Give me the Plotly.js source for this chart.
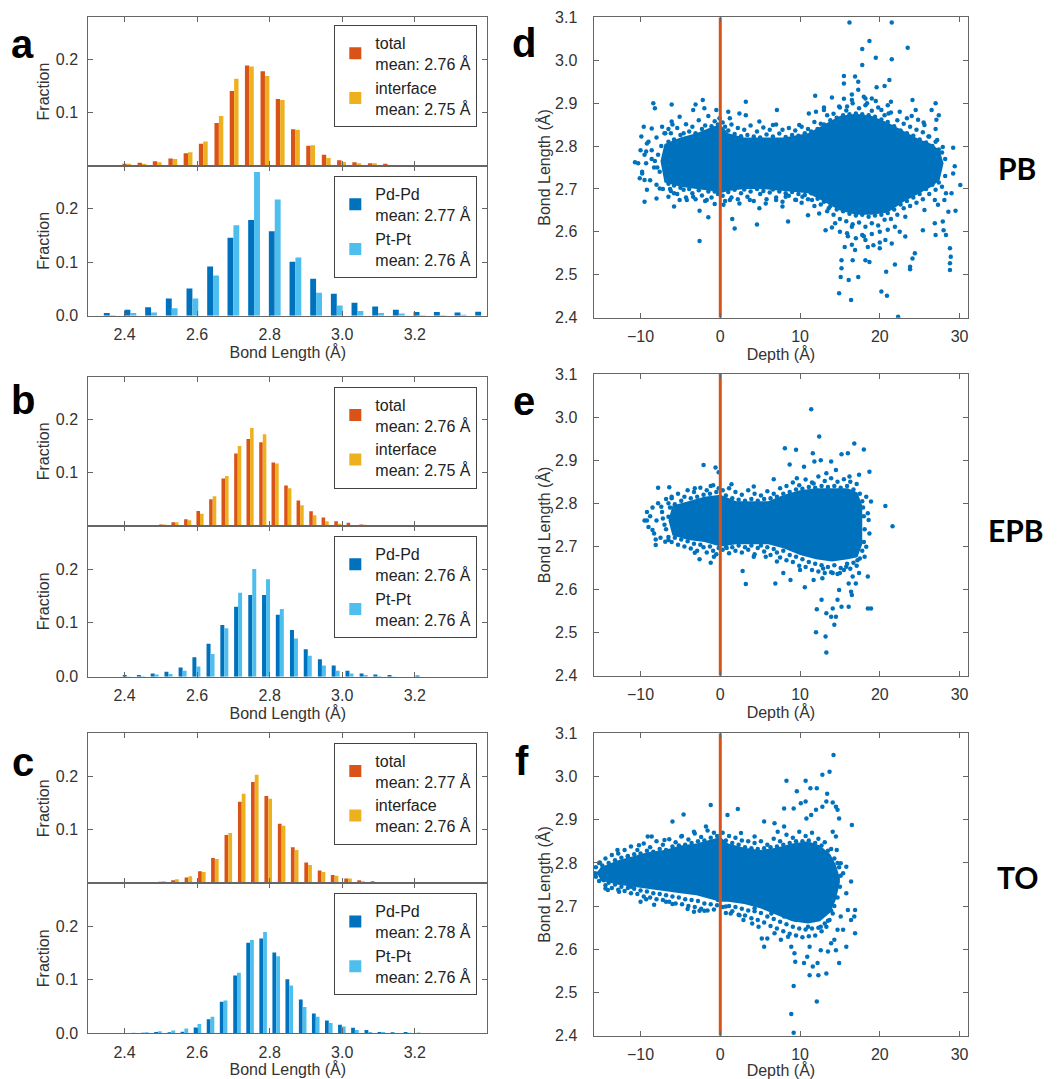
<!DOCTYPE html>
<html><head><meta charset="utf-8">
<script src="https://cdn.plot.ly/plotly-3.0.1.min.js"></script>
<style>html,body{margin:0;padding:0;background:#fff}#chart{width:1062px;height:1079px}</style>
</head><body><div id="chart"></div>
<script>
// ---------------- DATA ----------------
// Histogram bin centres (Bond Length, Å)
const aTopBins = [2.321,2.364,2.406,2.448,2.490,2.533,2.575,2.617,2.660,2.702,2.744,2.787,2.829,2.871,2.913,2.956,2.998,3.040,3.083,3.125,3.167,3.210,3.252,3.294,3.337,3.379];
const aTopTotal = [0.002,0.002,0.004,0.006,0.009,0.014,0.024,0.042,0.081,0.141,0.189,0.178,0.126,0.069,0.038,0.021,0.011,0.007,0.005,0.004,0.002,0.001,0.001,0.001,0.001,0.001];
const aTopInterface = [0.001,0.002,0.004,0.004,0.007,0.013,0.026,0.046,0.094,0.164,0.187,0.169,0.124,0.068,0.039,0.015,0.0075,0.005,0.005,0.001,0.002,0.001,0.001,0.001,0.001,0.001];

const aBotBins = [2.359,2.416,2.473,2.530,2.587,2.644,2.700,2.757,2.814,2.871,2.928,2.985,3.042,3.099,3.156,3.213,3.269,3.326,3.383];
const aBotPdPd = [0.005,0.011,0.016,0.032,0.051,0.092,0.146,0.179,0.158,0.101,0.069,0.041,0.024,0.017,0.011,0.007,0.007,0.006,0.0075];
const aBotPtPt = [0.001,0.005,0.006,0.014,0.032,0.075,0.169,0.269,0.2175,0.109,0.043,0.019,0.009,0.005,0.004,0.001,0.001,0.002,0];

const bTopBins = [2.470,2.505,2.539,2.574,2.608,2.643,2.677,2.712,2.746,2.781,2.815,2.850,2.884,2.919,2.953,2.988,3.022,3.057];
const bTopTotal = [0.001,0.003,0.007,0.0125,0.028,0.050,0.089,0.136,0.163,0.157,0.119,0.076,0.048,0.0275,0.016,0.009,0.006,0.003];
const bTopInterface = [0.001,0.003,0.007,0.011,0.023,0.056,0.094,0.150,0.184,0.172,0.117,0.071,0.039,0.020,0.009,0.004,0.002,0.0025];

const bBotBins = [2.406,2.445,2.483,2.521,2.560,2.598,2.637,2.675,2.713,2.752,2.790,2.828,2.867,2.905,2.944,2.982,3.020,3.059,3.097,3.136,3.174,3.213];
const bBotPdPd = [0.003,0.003,0.006,0.009,0.017,0.036,0.061,0.096,0.130,0.152,0.152,0.115,0.087,0.051,0.0325,0.021,0.011,0.006,0.004,0.003,0,0.002];
const bBotPtPt = [0.0005,0.001,0.004,0.005,0.011,0.019,0.042,0.090,0.156,0.200,0.181,0.126,0.071,0.039,0.021,0.011,0.006,0.003,0.001,0.0005,0,0];

const cTopBins = [2.466,2.503,2.539,2.576,2.613,2.649,2.686,2.723,2.759,2.796,2.833,2.869,2.906,2.943,2.979,3.016,3.052,3.089,3.126,3.162];
const cTopTotal = [0.002,0.003,0.0055,0.011,0.0225,0.047,0.090,0.152,0.189,0.163,0.111,0.0675,0.039,0.024,0.0155,0.009,0.0055,0.004,0.002,0.001];
const cTopInterface = [0.0025,0.004,0.0075,0.013,0.021,0.0455,0.094,0.167,0.2025,0.158,0.1075,0.062,0.034,0.021,0.014,0.009,0.004,0.0025,0.001,0.002];

const cBotBins = [2.420,2.456,2.492,2.529,2.565,2.601,2.637,2.673,2.710,2.746,2.782,2.818,2.854,2.891,2.927,2.963,2.999,3.035,3.072,3.108,3.144,3.180,3.216,3.253,3.289];
const cBotPdPd = [0.0005,0.001,0.0025,0.002,0.003,0.011,0.026,0.059,0.108,0.169,0.177,0.151,0.101,0.063,0.037,0.024,0.016,0.0105,0.006,0.0025,0.002,0.0025,0.001,0.0005,0.0005];
const cBotPtPt = [0.001,0.002,0.004,0.005,0.009,0.0175,0.031,0.061,0.113,0.174,0.189,0.144,0.089,0.049,0.031,0.019,0.0125,0.006,0.0025,0.0025,0.0005,0.001,0.0005,0.0005,0];

const topNames = [
  ['total<br>mean: 2.76 Å','interface<br>mean: 2.75 Å'],
  ['total<br>mean: 2.76 Å','interface<br>mean: 2.75 Å'],
  ['total<br>mean: 2.77 Å','interface<br>mean: 2.76 Å']];
const botNames = [
  ['Pd-Pd<br>mean: 2.77 Å','Pt-Pt<br>mean: 2.76 Å'],
  ['Pd-Pd<br>mean: 2.76 Å','Pt-Pt<br>mean: 2.76 Å'],
  ['Pd-Pd<br>mean: 2.78 Å','Pt-Pt<br>mean: 2.76 Å']];

// Scatter: dense core envelope (depth, upper, lower)
const dCoreDepth = [-7.5,-7,-5,-3,-1,0,1,3,5,8,11,13,15,17,19,21,23,25,26.5,27.5,28];
const dCoreUpper = [2.765,2.805,2.82,2.83,2.845,2.85,2.83,2.82,2.82,2.82,2.83,2.85,2.87,2.875,2.87,2.855,2.835,2.815,2.805,2.79,2.76];
const dCoreLower = [2.765,2.715,2.705,2.70,2.695,2.69,2.695,2.70,2.70,2.695,2.69,2.67,2.65,2.64,2.64,2.645,2.67,2.69,2.705,2.72,2.76];
// sparse points read individually
const dPoints = [[16.2,3.088],[21.5,3.088],[18.7,3.045],[23.5,3.029],[17.8,3.026],[21.5,3.002],[19.5,3.006],[17.8,2.989],[16.9,2.962],[15.5,2.963],[17.3,2.950],[21.2,2.954],[20.6,2.940],[19.6,2.937],[17.3,2.931],[15.5,2.946],[14.0,2.913],[11.9,2.917],[19.0,2.911],[24.1,2.907],[27.0,2.900],[21.4,2.903],[-8.4,2.900],[-6.1,2.897],[-3.1,2.897],[-2.2,2.907],[3.2,2.903],[-8.2,2.888],[1.0,2.880],[3.2,2.872],[7.1,2.884],[-0.5,2.884],[26.5,2.884],[27.4,2.872],[24.5,2.884],[25.6,2.849],[27.1,2.861],[-9.6,2.845],[-9.9,2.822],[-10.7,2.762],[-10.1,2.725],[-9.5,2.670],[-2.6,2.649],[-1.5,2.634],[0.4,2.663],[1.5,2.630],[1.8,2.608],[-2.6,2.579],[4.6,2.617],[8.5,2.624],[11.0,2.639],[7.8,2.659],[29.2,2.796],[30.1,2.709],[29.4,2.753],[29.2,2.736],[29.0,2.690],[29.5,2.649],[28.6,2.647],[28.0,2.604],[28.3,2.593],[28.8,2.562],[28.9,2.542],[28.8,2.527],[28.8,2.511],[27.0,2.593],[24.4,2.550],[24.1,2.538],[23.8,2.519],[23.8,2.513],[21.9,2.524],[20.8,2.507],[20.2,2.461],[20.9,2.451],[22.3,2.402],[14.9,2.457],[16.4,2.441],[16.1,2.488],[17.3,2.495],[15.1,2.495],[15.2,2.515],[15.2,2.534],[16.6,2.534],[18.2,2.534],[18.7,2.530],[15.6,2.565],[16.9,2.558],[20.0,2.562],[19.2,2.569],[23.2,2.589],[22.5,2.600],[25.4,2.604],[26.9,2.620],[27.9,2.624],[13.2,2.604],[14.4,2.620],[13.6,2.655],[15.9,2.597],[17.8,2.593],[18.2,2.581],[20.7,2.581],[21.5,2.573],[16.5,2.612],[21.9,2.612],[23.2,2.635],[25.6,2.651],[27.3,2.663],[26.9,2.674],[28.1,2.674],[28.3,2.690],[27.9,2.798],[27.2,2.814],[26.1,2.822],[24.8,2.861],[23.4,2.865],[22.7,2.830],[21.1,2.876],[20.2,2.884],[18.4,2.900],[18.2,2.911],[16.5,2.907],[15.9,2.892],[14.9,2.892],[13.0,2.884],[11.1,2.876],[9.9,2.849],[6.6,2.849],[4.9,2.857],[2.4,2.876],[1.2,2.865],[-0.1,2.865],[-2.0,2.888],[-3.4,2.884],[-5.1,2.868],[-6.1,2.857],[-7.3,2.845],[-6.9,2.830],[-8.6,2.841],[-9.2,2.806],[-9.3,2.787],[-9.8,2.736],[-9.5,2.721],[-9.2,2.698],[-8.0,2.678],[-7.6,2.701],[-6.5,2.682],[-5.8,2.659],[-5.1,2.674],[-4.2,2.674],[-3.4,2.682],[-1.7,2.674],[-0.7,2.694],[1.2,2.674],[2.4,2.666],[3.7,2.674],[4.9,2.655],[5.7,2.666],[7.0,2.674],[8.2,2.682],[9.5,2.674],[10.3,2.682],[11.5,2.674],[12.4,2.643],
[-10.3,2.76],[-10,2.79],[-9.8,2.74],[-9.5,2.78],[-9.3,2.76],[-9,2.81],[-8.8,2.72],[-8.6,2.79],[-8.3,2.75],[-8,2.82],[-8,2.71],[-7.8,2.78],[-7.6,2.74],[-7.4,2.80],[-7.2,2.70],[-7,2.83],[-6.8,2.76],[-6.5,2.84],[-6.3,2.70],[-6,2.85],[-5.8,2.69],[-8.2,2.765],[-7.9,2.75],[-8.6,2.77],
[14,2.61],[15,2.60],[16,2.59],[17,2.585],[18,2.59],[19,2.595],[20,2.60],[21,2.605],[16.5,2.57],[18.5,2.565],[20,2.575],[15.5,2.91],[16.5,2.92],[18,2.915],[19.5,2.905],[21,2.895],[13,2.89],[12,2.88],[22.5,2.88],[24,2.87],[25.5,2.855],[27,2.84]];
// points at the edge of the dense cloud
const dEdgePoints = [[-6.5,2.81],[-6.2,2.83],[-5.8,2.815],[-5.4,2.842],[-5.0,2.826],[-4.6,2.83],[-4.3,2.851],[-3.9,2.834],[-3.5,2.845],[-3.1,2.83],[-2.7,2.86],[-2.3,2.84],[-1.9,2.848],[-1.5,2.87],[-1.1,2.846],[-0.7,2.858],[-0.3,2.85],[0.3,2.855],[0.6,2.845],[1.0,2.836],[1.4,2.85],[1.8,2.828],[2.2,2.842],[2.6,2.823],[3.0,2.838],[3.4,2.826],[3.8,2.848],[4.2,2.822],[4.6,2.834],[5.0,2.82],[5.4,2.843],[5.8,2.827],[6.2,2.838],[6.6,2.822],[7.0,2.85],[7.4,2.829],[7.8,2.838],[8.2,2.821],[8.6,2.842],[9.0,2.826],[9.4,2.836],[9.8,2.824],[10.2,2.845],[10.6,2.83],[11.0,2.84],[11.4,2.834],[11.8,2.856],[12.2,2.84],[12.6,2.852],[13.0,2.85],[13.4,2.872],[13.8,2.86],[14.2,2.875],[14.6,2.866],[15.0,2.89],[15.4,2.872],[15.8,2.883],[16.2,2.874],[16.6,2.9],[17.0,2.876],[17.4,2.888],[17.8,2.874],[18.2,2.895],[18.6,2.872],[19.0,2.882],[19.4,2.868],[19.8,2.89],[20.2,2.862],[20.6,2.872],[21.0,2.856],[21.4,2.878],[21.8,2.846],[22.2,2.86],[22.6,2.836],[23.0,2.852],[23.4,2.83],[23.8,2.845],[24.2,2.824],[24.6,2.838],[25.0,2.815],[25.4,2.832],[25.8,2.808],[26.2,2.822],[26.6,2.80],[27.0,2.81],[27.4,2.792],[27.8,2.785],[28.2,2.77],
[-6.5,2.712],[-6.2,2.695],[-5.8,2.708],[-5.4,2.688],[-5.0,2.703],[-4.6,2.698],[-4.3,2.68],[-3.9,2.7],[-3.5,2.69],[-3.1,2.676],[-2.7,2.697],[-2.3,2.685],[-1.9,2.672],[-1.5,2.694],[-1.1,2.68],[-0.7,2.665],[-0.3,2.688],[0.3,2.684],[0.6,2.672],[1.0,2.693],[1.4,2.68],[1.8,2.698],[2.2,2.676],[2.6,2.69],[3.0,2.699],[3.4,2.682],[3.8,2.694],[4.2,2.672],[4.6,2.7],[5.0,2.688],[5.4,2.695],[5.8,2.676],[6.2,2.692],[6.6,2.699],[7.0,2.68],[7.4,2.694],[7.8,2.67],[8.2,2.69],[8.6,2.684],[9.0,2.693],[9.4,2.675],[9.8,2.688],[10.2,2.668],[10.6,2.686],[11.0,2.676],[11.4,2.69],[11.8,2.66],[12.2,2.677],[12.6,2.664],[13.0,2.67],[13.4,2.648],[13.8,2.66],[14.2,2.64],[14.6,2.652],[15.0,2.63],[15.4,2.648],[15.8,2.625],[16.2,2.642],[16.6,2.618],[17.0,2.638],[17.4,2.622],[17.8,2.64],[18.2,2.612],[18.6,2.635],[19.0,2.62],[19.4,2.638],[19.8,2.615],[20.2,2.64],[20.6,2.628],[21.0,2.644],[21.4,2.63],[21.8,2.652],[22.2,2.64],[22.6,2.664],[23.0,2.655],[23.4,2.672],[23.8,2.66],[24.2,2.68],[24.6,2.668],[25.0,2.688],[25.4,2.676],[25.8,2.7],[26.2,2.688],[26.6,2.71],[27.0,2.698],[27.4,2.715],[27.8,2.705],[28.2,2.73]];

const eCoreDepth = [-6.5,-6,-4,-2,0,2,4,6,8,10,12,14,16,17.2,17.8];
const eCoreUpper = [2.76,2.795,2.805,2.815,2.82,2.805,2.805,2.805,2.82,2.83,2.835,2.835,2.835,2.825,2.795];
const eCoreLower = [2.76,2.725,2.715,2.71,2.70,2.705,2.705,2.705,2.695,2.68,2.67,2.665,2.67,2.675,2.705];
const ePoints = [[11.4,3.018],[12.4,2.955],[16.8,2.939],[18.0,2.925],[8.1,2.928],[9.5,2.924],[11.6,2.916],[15.2,2.914],[16.0,2.916],[11.8,2.897],[12.6,2.900],[13.9,2.897],[18.7,2.873],[-2.1,2.889],[-0.6,2.883],[-0.2,2.872],[8.7,2.890],[10.5,2.885],[13.3,2.870],[14.5,2.877],[16.2,2.862],[17.4,2.866],[6.7,2.856],[9.6,2.858],[11.7,2.846],[-7.8,2.836],[-6.4,2.837],[-3.2,2.835],[-1.2,2.840],[1.4,2.844],[4.2,2.839],[-9.2,2.760],[-8.5,2.738],[-8.1,2.716],[-8.1,2.703],[-6.9,2.711],[-6.5,2.769],[-7.4,2.792],[-6.1,2.815],[-3.2,2.685],[-2.6,2.670],[-1.2,2.662],[-0.8,2.676],[0.8,2.696],[2.8,2.643],[3.2,2.613],[4.2,2.676],[5.7,2.676],[7.1,2.665],[6.9,2.614],[7.9,2.638],[8.8,2.622],[10.0,2.645],[10.6,2.605],[11.7,2.622],[12.1,2.554],[12.0,2.501],[12.7,2.576],[12.8,2.626],[13.2,2.491],[13.3,2.454],[13.3,2.545],[13.9,2.537],[14.1,2.556],[14.3,2.518],[14.5,2.537],[14.7,2.576],[14.9,2.599],[16.1,2.614],[16.4,2.595],[16.5,2.587],[16.1,2.560],[15.2,2.560],[17.4,2.638],[18.5,2.630],[18.5,2.556],[18.9,2.556],[17.2,2.668],[18.1,2.676],[18.3,2.699],[18.7,2.730],[18.6,2.761],[18.5,2.777],[18.9,2.804],[18.3,2.815],[20.7,2.794],[21.6,2.747],[12.9,2.649],[14.1,2.638],[15.0,2.638],[15.8,2.653],[16.6,2.630],[17.0,2.614],
[-9.5,2.76],[-9.2,2.78],[-9,2.745],[-8.8,2.77],[-8.5,2.79],[-8.3,2.73],[-8,2.76],[-7.8,2.80],[-7.5,2.72],[-7.3,2.78],[-7,2.75],[-6.8,2.81],[-6.5,2.715],[-6.3,2.79],[-7.2,2.765],[-6.8,2.74]];
const eEdgePoints = [[-6.5,2.8],[-6.1,2.812],[-5.7,2.798],[-5.3,2.822],[-4.9,2.806],[-4.5,2.815],[-4.1,2.83],[-3.7,2.812],[-3.3,2.826],[-2.9,2.815],[-2.5,2.836],[-2.1,2.82],[-1.7,2.83],[-1.3,2.822],[-0.9,2.842],[-0.5,2.826],[-0.2,2.835],[0.3,2.83],[0.7,2.818],[1.1,2.835],[1.5,2.812],[1.9,2.826],[2.3,2.808],[2.7,2.82],[3.1,2.806],[3.5,2.83],[3.9,2.81],[4.3,2.822],[4.7,2.806],[5.1,2.818],[5.5,2.81],[5.9,2.828],[6.3,2.812],[6.7,2.822],[7.1,2.815],[7.5,2.835],[7.9,2.822],[8.3,2.84],[8.7,2.826],[9.1,2.848],[9.5,2.832],[9.9,2.842],[10.3,2.834],[10.7,2.855],[11.1,2.838],[11.5,2.848],[11.9,2.836],[12.3,2.862],[12.7,2.84],[13.1,2.852],[13.5,2.838],[13.9,2.858],[14.3,2.84],[14.7,2.85],[15.1,2.836],[15.5,2.856],[15.9,2.84],[16.3,2.85],[16.7,2.832],[17.1,2.845],[17.5,2.822],[17.8,2.805],
[-6.5,2.722],[-6.1,2.71],[-5.7,2.72],[-5.3,2.704],[-4.9,2.716],[-4.5,2.7],[-4.1,2.712],[-3.7,2.695],[-3.3,2.706],[-2.9,2.69],[-2.5,2.704],[-2.1,2.698],[-1.7,2.686],[-1.3,2.7],[-0.9,2.69],[-0.5,2.682],[-0.2,2.696],[0.3,2.692],[0.7,2.7],[1.1,2.684],[1.5,2.698],[1.9,2.69],[2.3,2.702],[2.7,2.686],[3.1,2.698],[3.5,2.692],[3.9,2.702],[4.3,2.682],[4.7,2.696],[5.1,2.702],[5.5,2.688],[5.9,2.698],[6.3,2.68],[6.7,2.694],[7.1,2.686],[7.5,2.674],[7.9,2.69],[8.3,2.668],[8.7,2.68],[9.1,2.664],[9.5,2.676],[9.9,2.655],[10.3,2.67],[10.7,2.652],[11.1,2.664],[11.5,2.645],[11.9,2.66],[12.3,2.642],[12.7,2.656],[13.1,2.638],[13.5,2.652],[13.9,2.64],[14.3,2.656],[14.7,2.636],[15.1,2.65],[15.5,2.645],[15.9,2.66],[16.3,2.648],[16.7,2.662],[17.1,2.655],[17.5,2.672],[17.8,2.69],[18.0,2.71],[18.1,2.74],[18.0,2.77],[17.9,2.79]];

const fCoreDepth = [-15.5,-15,-13,-11,-9,-7,-5,-3,-1,0,1,3,5,7,9,11,12.5,13.8,14.5,15];
const fCoreUpper = [2.777,2.79,2.805,2.815,2.825,2.83,2.84,2.845,2.855,2.86,2.845,2.835,2.83,2.835,2.845,2.85,2.84,2.82,2.795,2.765];
const fCoreLower = [2.777,2.76,2.75,2.745,2.74,2.735,2.73,2.725,2.715,2.71,2.71,2.705,2.695,2.68,2.665,2.66,2.665,2.685,2.715,2.755];
const fPoints = [[14.2,3.050],[13.7,3.011],[12.8,3.004],[8.3,2.990],[10.7,2.990],[11.3,2.973],[12.1,2.973],[13.4,2.960],[9.6,2.966],[13.3,2.942],[14.1,2.940],[10.7,2.942],[10.1,2.938],[14.5,2.930],[12.8,2.930],[12.0,2.923],[9.2,2.926],[8.0,2.926],[14.7,2.923],[10.8,2.903],[11.4,2.911],[14.9,2.903],[16.5,2.888],[-4.6,2.912],[-1.2,2.934],[2.2,2.925],[0.9,2.911],[-6.0,2.896],[5.5,2.896],[6.8,2.892],[8.0,2.884],[-9.1,2.861],[-8.6,2.861],[-10.2,2.841],[-12.9,2.830],[-15.1,2.801],[-15.7,2.776],[-15.2,2.776],[-14.1,2.737],[-14.4,2.741],[-12.7,2.733],[-10.0,2.710],[-9.3,2.716],[-8.3,2.703],[-6.8,2.710],[-6.0,2.705],[-4.1,2.693],[-3.3,2.687],[-2.6,2.689],[-2.0,2.689],[-0.3,2.714],[0.7,2.699],[1.3,2.683],[2.4,2.679],[2.9,2.668],[4.0,2.660],[4.8,2.652],[5.2,2.625],[5.5,2.606],[5.9,2.625],[6.8,2.637],[7.6,2.622],[8.5,2.629],[8.9,2.606],[9.3,2.591],[9.4,2.571],[10.5,2.568],[11.2,2.606],[10.9,2.583],[11.6,2.560],[11.2,2.540],[12.3,2.540],[12.2,2.568],[13.3,2.544],[12.6,2.598],[13.5,2.595],[13.9,2.614],[14.3,2.622],[14.5,2.598],[14.9,2.568],[14.7,2.645],[15.8,2.606],[15.4,2.645],[15.1,2.676],[16.0,2.691],[16.4,2.668],[16.8,2.676],[16.9,2.691],[16.9,2.637],[16.4,2.757],[15.8,2.730],[15.4,2.776],[15.1,2.799],[15.8,2.791],[14.6,2.830],[14.5,2.861],[14.1,2.872],[9.2,2.515],[8.9,2.450],[9.2,2.407],[12.1,2.479],[9.5,2.668],[11.0,2.652],[11.8,2.668],[12.6,2.652],[13.3,2.652],[13.7,2.668],[14.1,2.683],[4.3,2.695],[6.4,2.683],[8.0,2.676],[10.5,2.676],[7.2,2.872],[4.3,2.861],[2.6,2.869],[-1.8,2.884],[-3.3,2.872],[-4.9,2.861],[-7.0,2.853],[-11.6,2.815],[-13.7,2.791],[-12.5,2.760],[-11.2,2.745],[-14.6,2.760]];
const fEdgePoints = [[-15.6,2.79],[-15.2,2.8],[-14.8,2.794],[-14.4,2.81],[-14.0,2.8],[-13.6,2.818],[-13.2,2.806],[-12.8,2.822],[-12.4,2.812],[-12.0,2.83],[-11.6,2.816],[-11.2,2.838],[-10.8,2.82],[-10.4,2.83],[-10.0,2.822],[-9.6,2.845],[-9.2,2.828],[-8.8,2.836],[-8.4,2.826],[-8.0,2.85],[-7.6,2.832],[-7.2,2.842],[-6.8,2.83],[-6.4,2.855],[-6.0,2.838],[-5.6,2.848],[-5.2,2.84],[-4.8,2.862],[-4.4,2.842],[-4.0,2.854],[-3.6,2.846],[-3.2,2.868],[-2.8,2.85],[-2.4,2.86],[-2.0,2.852],[-1.6,2.875],[-1.2,2.858],[-0.8,2.87],[-0.4,2.862],[0.3,2.87],[0.7,2.852],[1.1,2.862],[1.5,2.846],[1.9,2.858],[2.3,2.842],[2.7,2.852],[3.1,2.836],[3.5,2.85],[3.9,2.834],[4.3,2.846],[4.7,2.832],[5.1,2.85],[5.5,2.834],[5.9,2.842],[6.3,2.836],[6.7,2.856],[7.1,2.838],[7.5,2.85],[7.9,2.842],[8.3,2.865],[8.7,2.846],[9.1,2.858],[9.5,2.85],[9.9,2.872],[10.3,2.85],[10.7,2.862],[11.1,2.852],[11.5,2.87],[11.9,2.846],[12.3,2.856],[12.7,2.84],[13.1,2.848],[13.5,2.828],[13.9,2.832],[14.3,2.81],[14.7,2.8],
[-15.6,2.768],[-15.2,2.758],[-14.8,2.762],[-14.4,2.748],[-14.0,2.754],[-13.6,2.742],[-13.2,2.75],[-12.8,2.738],[-12.4,2.745],[-12.0,2.735],[-11.6,2.742],[-11.2,2.73],[-10.8,2.74],[-10.4,2.728],[-10.0,2.736],[-9.6,2.722],[-9.2,2.734],[-8.8,2.72],[-8.4,2.73],[-8.0,2.716],[-7.6,2.728],[-7.2,2.714],[-6.8,2.725],[-6.4,2.71],[-6.0,2.722],[-5.6,2.706],[-5.2,2.72],[-4.8,2.704],[-4.4,2.716],[-4.0,2.7],[-3.6,2.714],[-3.2,2.698],[-2.8,2.712],[-2.4,2.694],[-2.0,2.706],[-1.6,2.69],[-1.2,2.704],[-0.8,2.692],[-0.4,2.702],[0.3,2.698],[0.7,2.684],[1.1,2.7],[1.5,2.688],[1.9,2.698],[2.3,2.68],[2.7,2.694],[3.1,2.678],[3.5,2.69],[3.9,2.672],[4.3,2.688],[4.7,2.668],[5.1,2.684],[5.5,2.662],[5.9,2.676],[6.3,2.654],[6.7,2.67],[7.1,2.648],[7.5,2.664],[7.9,2.642],[8.3,2.658],[8.7,2.636],[9.1,2.652],[9.5,2.632],[9.9,2.648],[10.3,2.628],[10.7,2.646],[11.1,2.63],[11.5,2.648],[11.9,2.632],[12.3,2.65],[12.7,2.642],[13.1,2.66],[13.5,2.666],[13.9,2.69],[14.3,2.7],[14.7,2.72],[15.0,2.745],[15.1,2.77],[14.9,2.79]];

const interfaceDepth = 0;
const panelLetters = ['a','b','c','d','e','f'];
const sideLabels = ['PB','EPB','TO'];

// ---------------- LAYOUT / RENDER ----------------
const W = 1062, H = 1079;
const C_ORANGE = '#D95319', C_YELLOW = '#EDB120', C_BLUE = '#0072BD', C_LBLUE = '#4DBEEE';
const xd = (l, r) => [l / W, r / W];
const yd = (t, b) => [1 - b / H, 1 - t / H];

const HX = [88.3, 487.3];
const histBoxes = [[17,166],[166,315.7],[376.7,526],[526,676.7],[733.3,883.3],[883.3,1033.3]];
const SX = [593.5, 968.3];
const scatBoxes = [[17.3,317.7],[374,675.7],[733.3,1035.7]];
const legendTops = [25,176,386.7,536,742.7,893.3];

const FONT = 'Arial, Liberation Sans, sans-serif';
const tickFont = {family:FONT, size:16, color:'#333'};
const titleFont = {family:FONT, size:16, color:'#333'};
const baseAx = {showline:true, linecolor:'#666', linewidth:1, mirror:'ticks', ticks:'inside', ticklen:5,
  tickcolor:'#666', zeroline:false, showgrid:false, tickfont:tickFont, fixedrange:true};

const histSets = [
  [aTopBins, aTopTotal, aTopInterface, topNames[0], [C_ORANGE, C_YELLOW]],
  [aBotBins, aBotPdPd, aBotPtPt, botNames[0], [C_BLUE, C_LBLUE]],
  [bTopBins, bTopTotal, bTopInterface, topNames[1], [C_ORANGE, C_YELLOW]],
  [bBotBins, bBotPdPd, bBotPtPt, botNames[1], [C_BLUE, C_LBLUE]],
  [cTopBins, cTopTotal, cTopInterface, topNames[2], [C_ORANGE, C_YELLOW]],
  [cBotBins, cBotPdPd, cBotPtPt, botNames[2], [C_BLUE, C_LBLUE]]
];

const traces = [];
const layout = {
  width: W, height: H, margin:{l:0,r:0,t:0,b:0}, paper_bgcolor:'#fff', plot_bgcolor:'#fff',
  barmode:'group', bargap:0.42, bargroupgap:0, showlegend:true, annotations:[]
};
const axId = i => i === 1 ? '' : String(i);

histSets.forEach((s, k) => {
  const i = k + 1, id = axId(i);
  const isTop = (k % 2 === 0);
  const leg = i === 1 ? 'legend' : 'legend' + i;
  [0, 1].forEach(j => {
    traces.push({type:'bar', x:s[0], y:s[1 + j], name:s[3][j], xaxis:'x' + id, yaxis:'y' + id,
      marker:{color:s[4][j], line:{width:0}}, legend:leg, hoverinfo:'skip'});
  });
  layout['xaxis' + id] = Object.assign({}, baseAx, {
    domain: xd(HX[0], HX[1]), anchor:'y' + id, range:[2.3, 3.4],
    tickvals:[2.4,2.6,2.8,3.0,3.2], tickformat:'.1f', showticklabels:!isTop, ticklabelstandoff:4,
    title: isTop ? {text:''} : {text:'Bond Length (Å)', font:titleFont, standoff:4}
  });
  layout['yaxis' + id] = Object.assign({}, baseAx, {
    domain: yd(histBoxes[k][0], histBoxes[k][1]), anchor:'x' + id, range:[0, 0.28],
    tickvals: isTop ? [0.1, 0.2] : [0, 0.1, 0.2], tickformat:'.1f', ticklabelstandoff:6,
    title:{text:'Fraction', font:titleFont, standoff:2}
  });
  layout[leg] = {x: 477.3 / W, xanchor:'right', y: 1 - legendTops[k] / H, yanchor:'top',
    bgcolor:'#fff', bordercolor:'#444', borderwidth:1, tracegroupgap:0,
    font:{family:FONT, size:16, color:'#222'}};
});

const scatSets = [
  [dCoreDepth, dCoreUpper, dCoreLower, dPoints.concat(dEdgePoints)],
  [eCoreDepth, eCoreUpper, eCoreLower, ePoints.concat(eEdgePoints)],
  [fCoreDepth, fCoreUpper, fCoreLower, fPoints.concat(fEdgePoints)]
];
scatSets.forEach((s, k) => {
  const i = 7 + k, id = axId(i);
  traces.push({type:'scatter', mode:'lines', x: s[0].concat(s[0].slice().reverse()),
    y: s[1].concat(s[2].slice().reverse()), fill:'toself', fillcolor:C_BLUE,
    line:{width:0, color:C_BLUE}, xaxis:'x' + id, yaxis:'y' + id, showlegend:false, hoverinfo:'skip'});
  traces.push({type:'scatter', mode:'markers', x: s[3].map(p => p[0]), y: s[3].map(p => p[1]),
    marker:{color:C_BLUE, size:4.5}, xaxis:'x' + id, yaxis:'y' + id, showlegend:false, hoverinfo:'skip'});
  traces.push({type:'scatter', mode:'lines', x:[interfaceDepth, interfaceDepth], y:[2.4, 3.1],
    line:{color:C_ORANGE, width:3}, xaxis:'x' + id, yaxis:'y' + id, showlegend:false, hoverinfo:'skip'});
  layout['xaxis' + id] = Object.assign({}, baseAx, {
    domain: xd(SX[0], SX[1]), anchor:'y' + id, range:[-15.9, 31.1],
    tickvals:[-10,0,10,20,30], ticklabelstandoff:4,
    title:{text:'Depth (Å)', font:titleFont, standoff:2}
  });
  layout['yaxis' + id] = Object.assign({}, baseAx, {
    domain: yd(scatBoxes[k][0], scatBoxes[k][1]), anchor:'x' + id, range:[2.4, 3.1],
    tickvals:[2.4,2.5,2.6,2.7,2.8,2.9,3.0,3.1], tickformat:'.1f', ticklabelstandoff:12,
    title:{text:'Bond Length (Å)', font:{family:FONT, size:16, color:'#333'}, standoff:0}
  });
});

const letterPos = [[22,44],[23,400],[23,762],[524,43],[524,401],[522,761]];
panelLetters.forEach((t, k) => {
  layout.annotations.push({text:t, xref:'paper', yref:'paper', x:letterPos[k][0] / W, y:1 - letterPos[k][1] / H,
    xanchor:'center', yanchor:'middle', showarrow:false,
    font:{family:FONT, size:40, color:'#000', weight:700}});
});
const sidePos = [[1017,168],[1016,530],[1018,877]];
sideLabels.forEach((t, k) => {
  layout.annotations.push({text:t, xref:'paper', yref:'paper', x:sidePos[k][0] / W, y:1 - sidePos[k][1] / H,
    xanchor:'center', yanchor:'middle', showarrow:false,
    font:{family:'Lato, Open Sans, sans-serif', size:30, color:'#000', weight:700}});
});

Plotly.newPlot('chart', traces, layout, {staticPlot:true, displayModeBar:false});
</script></body></html>
